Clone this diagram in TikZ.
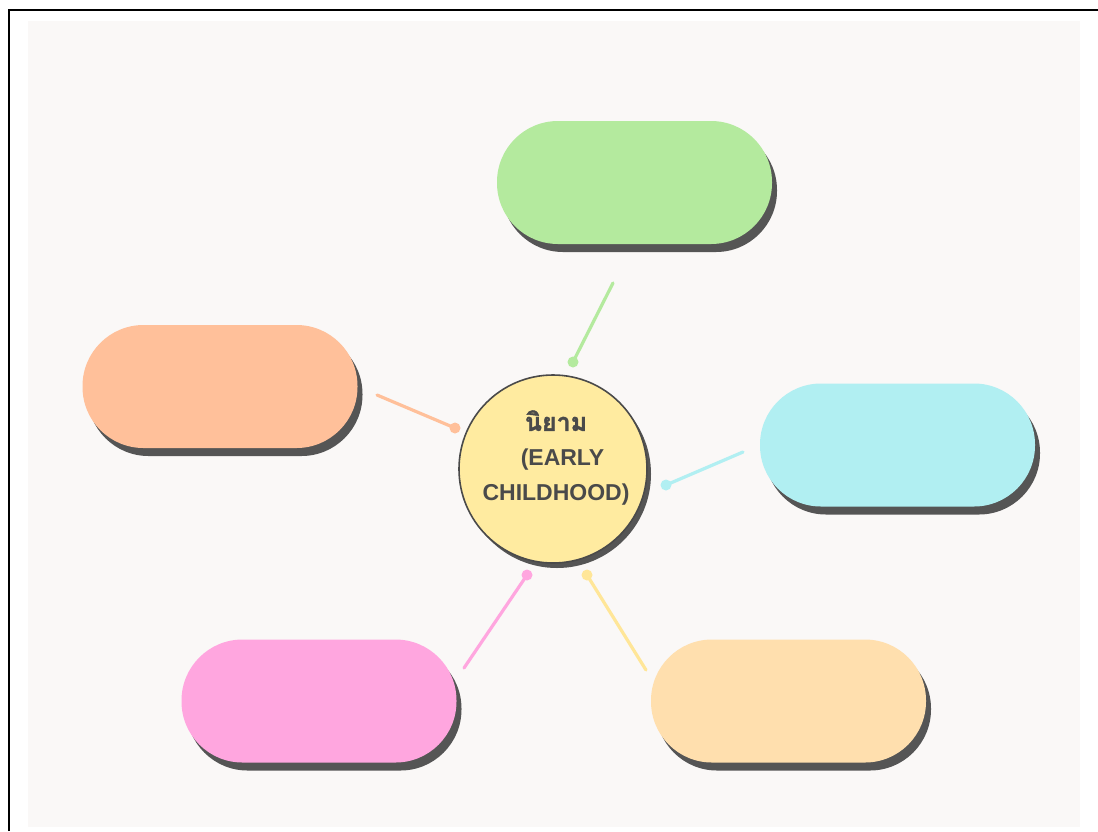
\documentclass[tikz,border=0pt]{standalone}
\usepackage{fontspec}
\setmainfont{Liberation Sans}
\newfontfamily\thaifont[Script=Thai, BoldFeatures={FakeBold=1.5}]{Loma}
\usetikzlibrary{shadows}
\definecolor{bgc}{HTML}{FAF8F7}
\definecolor{shadowc}{HTML}{555555}
\definecolor{greenc}{HTML}{B4EA9E}
\definecolor{orangec}{HTML}{FFC09A}
\definecolor{cyanc}{HTML}{B1EFF2}
\definecolor{pinkc}{HTML}{FFA6DF}
\definecolor{peachc}{HTML}{FFDFAE}
\definecolor{yellowc}{HTML}{FFEBA0}
\definecolor{textc}{HTML}{4A4A4A}
\begin{document}
\begin{tikzpicture}[x=1pt,y=-1pt,
  pill/.style={draw=none, minimum width=275pt, minimum height=123pt, inner sep=0pt,
    rounded corners=61pt, general shadow={fill=shadowc, shadow xshift=5pt, shadow yshift=-8pt}},
  hub/.style={circle, draw=textc, line width=1.6pt, fill=yellowc, minimum size=188pt, inner sep=0pt,
    general shadow={fill=shadowc, shadow xshift=4pt, shadow yshift=-5pt}},
  conn/.style={line width=3.2pt, line cap=round},
  dotc/.style={radius=5.5pt}]
\useasboundingbox (0,0) rectangle (1098,831);
\fill[white] (0,0) rectangle (1098,831);
\fill[bgc] (28,21) rectangle (1080,827);
\draw[line width=2pt] (8.5,831) -- (8.5,10) -- (1098,10);

\node[pill, fill=greenc] (top) at (634.5,182.5) {};
\node[pill, fill=orangec] (left) at (220,386.5) {};
\node[pill, fill=cyanc] (right) at (897.5,445) {};
\node[pill, fill=pinkc] (bl) at (319,701) {};
\node[pill, fill=peachc] (br) at (788.5,701) {};

\node[hub] (hub) at (553,469) {};
\node[text=textc, font=\fontsize{23}{35}\selectfont\bfseries, align=center] (label) at (556,458)
  {{\thaifont\fontsize{25}{35}\selectfont นิยาม}\\\hspace*{13pt}(EARLY\\CHILDHOOD)};

\coordinate (g1) at (613,283); \coordinate (g2) at (573,362);
\coordinate (o1) at (377,395); \coordinate (o2) at (455,428);
\coordinate (c1) at (743,452); \coordinate (c2) at (666,485);
\coordinate (p1) at (464,668); \coordinate (p2) at (527,575);
\coordinate (y1) at (646,670); \coordinate (y2) at (587,575);

\draw[conn, greenc] (g1) -- (g2); \fill[greenc] (g2) circle[dotc];
\draw[conn, orangec] (o1) -- (o2); \fill[orangec] (o2) circle[dotc];
\draw[conn, cyanc] (c1) -- (c2); \fill[cyanc] (c2) circle[dotc];
\draw[conn, pinkc] (p1) -- (p2); \fill[pinkc] (p2) circle[dotc];
\draw[conn, yellowc!95!orange] (y1) -- (y2); \fill[yellowc!95!orange] (y2) circle[dotc];
\end{tikzpicture}
\end{document}
